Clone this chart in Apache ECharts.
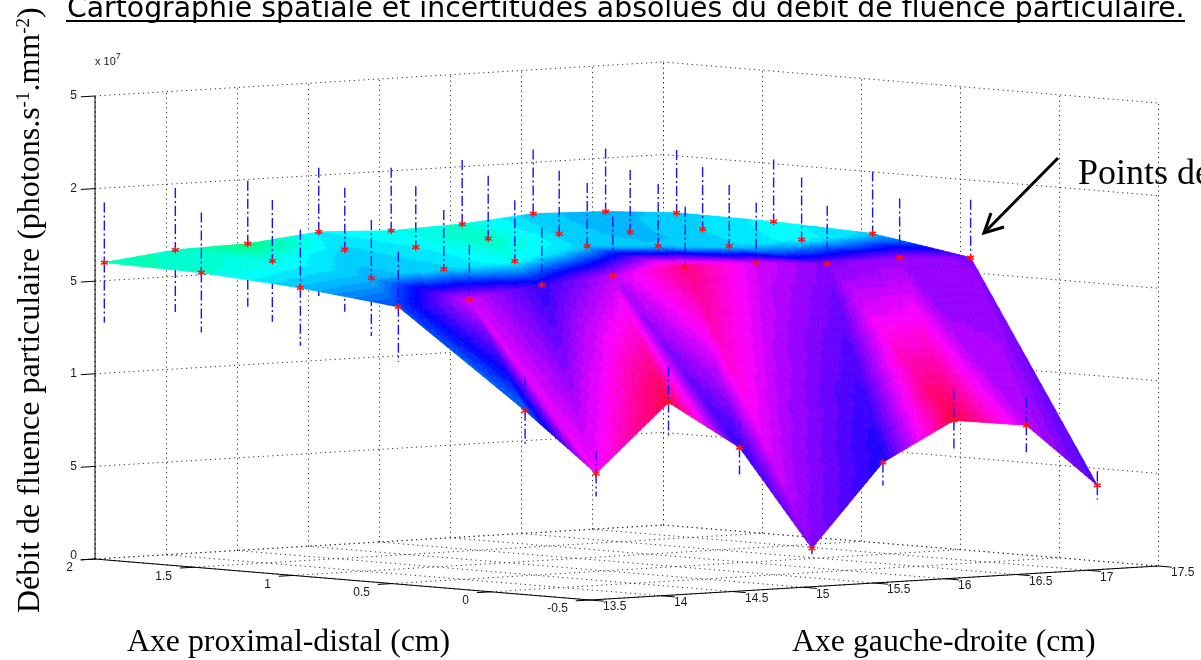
<!DOCTYPE html>
<html>
<head>
<meta charset="utf-8">
<style>html,body{margin:0;padding:0;background:#fff;overflow:hidden}#c{width:1201px;height:660px}</style>
<script src="https://cdn.jsdelivr.net/npm/echarts@6/dist/echarts.min.js"></script>
</head>
<body>
<div id="c"></div>
<script>
// ---- data ----
const titleText = "Cartographie spatiale et incertitudes absolues du débit de fluence particulaire.";
const xLabelLeft = "Axe proximal-distal (cm)";
const xLabelRight = "Axe gauche-droite (cm)";
const annotationText = "Points de";
const xTicks = [13.5, 14, 14.5, 15, 15.5, 16, 16.5, 17, 17.5];
const yTicks = [2, 1.5, 1, 0.5, 0, -0.5];
const zTicks = [0, 0.5, 1, 1.5, 2, 2.5];
const zTickLabels = ["0", "5", "1", "5", "2", "5"];
const gridXs = [13.51, 14.01, 14.52, 15.02, 15.53, 16.03, 16.53, 17.04, 17.54];
const gridYs = [1.96, 1.47, 0.97, 0.475, -0.165];
// fluence (×10^7) per row
const fluence1 = [1.604,1.649,1.659,1.700,1.683,1.696,1.729,1.717,1.687];
const fluence2 = [1.593,1.633,1.670,1.661,1.683,1.687,1.673,1.666,1.683];
const fluence3 = [1.555,1.585,1.610,1.630,1.688,1.665,1.642,1.653,1.663];
const fluence4 = [1.496,1.511,1.569,1.594,1.620,1.619,1.590,1.600,1.577];
const fluence5 = [0.992,0.630,0.990,0.724,0.156,0.597,0.801,0.751,0.404];
// absolute uncertainty (×10^7) per row
const error1 = [.324,.335,.340,.346,.340,.346,.346,.340,.340];
const error2 = [.324,.329,.335,.329,.340,.340,.335,.335,.335];
const error3 = [.313,.313,.319,.329,.340,.335,.329,.335,.335];
const error4 = [.297,.297,.308,.319,.324,.324,.313,.319,.313];
const error5 = [.184,.124,.194,.146,.032,.124,.167,.146,.076];
// colour value per vertex (hue, degrees)
const hue1 = [160,168,150,183,178,170,192,197,192];
const hue2 = [170,175,190,183,165,190,197,188,180];
const hue3 = [195,197,190,178,192,193,190,180,190];
const hue4 = [225,290,250,285,330,290,270,275,272];
const hue5 = [215,298,345,250,272,245,345,285,258];

const fluence = [fluence1,fluence2,fluence3,fluence4,fluence5];
const errors = [error1,error2,error3,error4,error5];
const hues = [hue1,hue2,hue3,hue4,hue5];

// ---- orthographic view of the 3-D box onto the page plane ----
function project(x, y, z) {
  return [95 + 142*(x-13.5) + 198*(2-y),
          559 - 8.5*(x-13.5) + 16.4*(2-y) - 185.2*z];
}
function hsv(h) {
  h = ((h % 360) + 360) % 360;
  const q = Math.round(h/5.625)*5.625;
  const f = (q/60) % 6, i = Math.floor(f), t = f - i;
  const v = [[1,t,0],[1-t,1,0],[0,1,t],[0,1-t,1],[t,0,1],[1,0,1-t]][i] || [1,0,0];
  return 'rgb(' + v.map(a => Math.round(a*255)).join(',') + ')';
}

// surface triangles, split finely for interpolated colour
const SUB = 18, tris = [];
function addTri(a, b, c) {
  const P = (i,j) => {
    const u=i/SUB, v=j/SUB, w=1-u-v;
    return {x:a.x*w+b.x*u+c.x*v, y:a.y*w+b.y*u+c.y*v, z:a.z*w+b.z*u+c.z*v, h:a.h*w+b.h*u+c.h*v};
  };
  const push = (p,q,r) => tris.push({pts:[p,q,r].map(m=>project(m.x,m.y,m.z)), col:hsv((p.h+q.h+r.h)/3)});
  for (let i=0;i<SUB;i++) for (let j=0;j<SUB-i;j++) {
    push(P(i,j),P(i+1,j),P(i,j+1));
    if (i+j<SUB-1) push(P(i+1,j),P(i+1,j+1),P(i,j+1));
  }
}
const V = (r,k) => ({x:gridXs[k], y:gridYs[r], z:fluence[r][k], h:hues[r][k]});
for (let r=0;r<gridYs.length-1;r++) for (let k=0;k<gridXs.length-1;k++) {
  addTri(V(r,k),V(r,k+1),V(r+1,k));
  addTri(V(r,k+1),V(r+1,k+1),V(r+1,k));
}

// segments
const dotted = {stroke:'#303030', lineWidth:1, lineDash:[1.2,3.6]};
const solid = {stroke:'#000', lineWidth:1};
const gridSegs = [], axisSegs = [], lowBars = [], upBars = [], points = [], texts = [];
const seg = (list,a,b,style) => list.push({a,b,style});
const snapV = (a,b) => { const x=Math.round(a[0])+0.5; return [[x,a[1]],[x,b[1]]]; };
const zMax = zTicks[zTicks.length-1];
xTicks.forEach(x => {
  seg(gridSegs,project(x,2,0),project(x,-0.5,0),dotted);
  const v=snapV(project(x,2,0),project(x,2,zMax));
  seg(gridSegs,v[0],v[1],dotted);
  seg(axisSegs,project(x,-0.5,0),project(x,-0.57,0),solid);
});
yTicks.forEach(y => {
  seg(gridSegs,project(13.5,y,0),project(17.5,y,0),dotted);
  const v=snapV(project(17.5,y,0),project(17.5,y,zMax));
  seg(gridSegs,v[0],v[1],dotted);
  seg(axisSegs,project(13.5,y,0),project(13.4,y,0),solid);
});
zTicks.forEach(z => {
  seg(gridSegs,project(13.5,2,z),project(17.5,2,z),dotted);
  seg(gridSegs,project(17.5,2,z),project(17.5,-0.5,z),dotted);
  seg(axisSegs,project(13.5,2,z),project(13.4,2,z),solid);
});
seg(axisSegs,project(13.5,2,0),project(13.5,-0.5,0),solid);
seg(axisSegs,project(13.5,-0.5,0),project(17.5,-0.5,0),solid);
seg(axisSegs,project(13.5,2,0),project(13.5,2,zMax),solid);

const barStyle = {stroke:'#1414ff', lineWidth:1.4, lineDash:[10,3,2,3]};
fluence.forEach((row,r) => row.forEach((z,k) => {
  const x=gridXs[k], y=gridYs[r], e=errors[r][k];
  seg(upBars,project(x,y,z+e),project(x,y,z),barStyle);
  seg(lowBars,project(x,y,z),project(x,y,z-e),barStyle);
  points.push(project(x,y,z));
}));

// tick labels
const tickFont = {fontFamily:'"Liberation Sans"', fontSize:12, fill:'#1a1a1a'};
xTicks.forEach(x => { const p=project(x,-0.5,0); texts.push({p:[p[0]+13,p[1]+7], t:String(x), align:'left'}); });
yTicks.forEach(y => { const p=project(13.5,y,0); texts.push({p:[p[0]-22,p[1]+9], t:String(y), align:'right'}); });
zTicks.forEach((z,i) => { const p=project(13.5,2,z); texts.push({p:[p[0]-18,p[1]-(i===0?3:0)], t:zTickLabels[i], align:'right'}); });

function segSeries(list, z) {
  return {type:'custom', coordinateSystem:'cartesian2d', z, silent:true, clip:false,
    data:list.map(s=>[s.a[0],s.a[1],s.b[0],s.b[1]]),
    encode:{x:[0,2],y:[1,3]},
    renderItem(params, api){
      const s=list[params.dataIndex];
      const a=api.coord([api.value(0),api.value(1)]), b=api.coord([api.value(2),api.value(3)]);
      return {type:'line', shape:{x1:a[0],y1:a[1],x2:b[0],y2:b[1]}, style:Object.assign({},s.style)};
    }};
}

const chart = echarts.init(document.getElementById('c'), null, {renderer:'canvas'});
chart.setOption({
  animation:false,
  backgroundColor:'#fff',
  grid:{left:0,right:0,top:0,bottom:0},
  xAxis:{type:'value',min:0,max:1201,show:false},
  yAxis:{type:'value',min:0,max:660,inverse:true,show:false},
  series:[
    segSeries(gridSegs,1),
    segSeries(lowBars,2),
    {type:'custom',coordinateSystem:'cartesian2d',z:3,silent:true,clip:false,progressive:0,
     data:tris.map((t,i)=>[t.pts[0][0],t.pts[0][1],i]),
     encode:{x:0,y:1},
     renderItem(params,api){
       const t=tris[params.dataIndex];
       return {type:'polygon',shape:{points:t.pts.map(p=>api.coord(p))},
         style:{fill:t.col,stroke:t.col,lineWidth:0.7}};
     }},
    segSeries(upBars,4),
    segSeries(axisSegs,5),
    {type:'scatter',z:6,silent:true,data:points,symbol:'path://M0 -5L0 5M-4.3 -2.5L4.3 2.5M-4.3 2.5L4.3 -2.5',symbolSize:7,
     itemStyle:{color:'rgba(0,0,0,0)',borderColor:'#ff1010',borderWidth:1.4,opacity:1}},
    {type:'custom',coordinateSystem:'cartesian2d',z:7,silent:true,clip:false,
     data:texts.map(t=>t.p),encode:{x:0,y:1},
     renderItem(params,api){
       const t=texts[params.dataIndex], c=api.coord([api.value(0),api.value(1)]);
       return {type:'text',x:c[0],y:c[1],style:Object.assign({text:t.t,textAlign:t.align,textVerticalAlign:'middle'},tickFont)};
     }}
  ],
  graphic:[
    {type:'text',x:67,y:24,z:10,style:{text:titleText,fontFamily:'"DejaVu Sans"',fontSize:28.3,fill:'#000',textAlign:'left',textVerticalAlign:'bottom'}},
    {type:'rect',z:10,shape:{x:66,y:20,width:1119,height:2},style:{fill:'#000'}},
    {type:'text',x:95,y:62,z:10,style:{text:'{a|x 10}{b|7}',textVerticalAlign:'middle',
       rich:{a:{fontFamily:'"Liberation Sans"',fontSize:11,fill:'#1a1a1a'},b:{fontFamily:'"Liberation Sans"',fontSize:9,fill:'#1a1a1a',verticalAlign:'top',lineHeight:20}}}},
    {type:'text',x:31,y:613,rotation:Math.PI/2,z:10,style:{text:'{a|Débit de fluence particulaire (photons.s}{b|-1}{a|.mm}{b|-2}{a|)}',textAlign:'left',textVerticalAlign:'middle',
       rich:{a:{fontFamily:'"Liberation Serif"',fontSize:32,fill:'#000'},b:{fontFamily:'"Liberation Serif"',fontSize:19,fill:'#000',verticalAlign:'top'}}}},
    {type:'text',x:127,y:643,z:10,style:{text:xLabelLeft,fontFamily:'"Liberation Serif"',fontSize:31.8,fill:'#000',textVerticalAlign:'middle'}},
    {type:'text',x:792,y:643,z:10,style:{text:xLabelRight,fontFamily:'"Liberation Serif"',fontSize:31.8,fill:'#000',textVerticalAlign:'middle'}},
    {type:'text',x:1078,y:175,z:10,style:{text:annotationText,fontFamily:'"Liberation Serif"',fontSize:36,fill:'#000',textVerticalAlign:'middle'}},
    {type:'polyline',z:10,shape:{points:[[1058,158],[984,233]]},style:{stroke:'#000',lineWidth:3,fill:null}},
    {type:'polyline',z:10,shape:{points:[[991,213],[984,233],[1004,227]]},style:{stroke:'#000',lineWidth:3,fill:null}}
  ]
});
</script>
</body>
</html>
